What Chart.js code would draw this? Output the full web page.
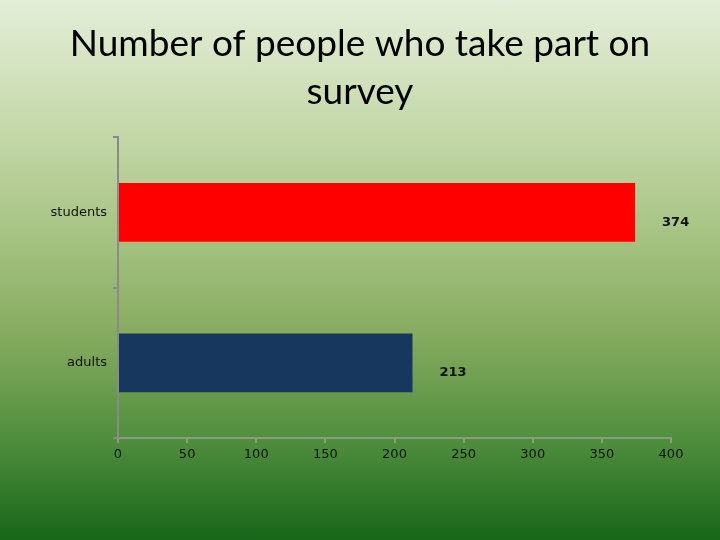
<!DOCTYPE html>
<html>
<head>
<meta charset="utf-8">
<script src="https://cdn.jsdelivr.net/npm/chart.js@4"></script>
<style>
    html, body { margin: 0; padding: 0; }
    body {
        width: 720px; height: 540px; overflow: hidden;
        background: linear-gradient(to bottom, #e4eed8 0%, #c3d7a8 25%, #a4c180 45%, #86ab5f 62%, #4e8d3c 82%, #18661a 100%);
    }
    #wrap { width: 720px; height: 540px; position: relative; }
</style>
</head>
<body>
<div id="wrap"><canvas id="chart"></canvas></div>
<script>
const categories = ["students", "adults"];
const values = [374, 213];
const barColors = ["#ff0000", "#17375e"];
const titleLines = ["Number of people who take part on", "survey"];

// labels de valeurs a droite des barres
const valueLabels = {
    id: "valueLabels",
    afterDatasetsDraw(chart) {
        const ctx = chart.ctx;
        const meta = chart.getDatasetMeta(0);
        ctx.save();
        ctx.font = "bold 13px 'DejaVu Sans'";
        ctx.fillStyle = "#111";
        ctx.textAlign = "left";
        ctx.textBaseline = "middle";
        meta.data.forEach((bar, i) => {
            ctx.fillText(String(values[i]), bar.x + 27, bar.y + 10);
        });
        ctx.restore();
    }
};

new Chart(document.getElementById("chart"), {
    type: "bar",
    data: {
        labels: categories,
        datasets: [{
            data: values,
            backgroundColor: barColors,
            barPercentage: 0.39,
            categoryPercentage: 1
        }]
    },
    options: {
        indexAxis: "y",
        responsive: true,
        maintainAspectRatio: false,
        animation: false,
        layout: { padding: { left: 49, right: 49, top: 0, bottom: 0 } },
        plugins: {
            legend: { display: false },
            tooltip: { enabled: false },
            title: {
                display: true,
                text: titleLines,
                color: "#000",
                font: { family: "Lato", size: 37, weight: "normal", lineHeight: 1.3 },
                padding: { top: 20, bottom: 21 }
            }
        },
        scales: {
            x: {
                min: 0,
                max: 400,
                ticks: {
                    stepSize: 50,
                    color: "#111",
                    font: { family: "DejaVu Sans", size: 13 },
                    padding: 4
                },
                grid: { drawOnChartArea: false, color: "#8c9c84", tickLength: 5, lineWidth: 2 },
                border: { color: "#8c9c84", width: 2 },
                afterFit(scale) { scale.height = 102; }
            },
            y: {
                ticks: {
                    color: "#111",
                    font: { family: "DejaVu Sans", size: 13 },
                    padding: 6
                },
                grid: { drawOnChartArea: false, color: "#8a8a8a", tickLength: 5, lineWidth: 2 },
                border: { color: "#8a8a8a", width: 2 },
                afterFit(scale) { scale.width = 69; }
            }
        }
    },
    plugins: [valueLabels]
});
</script>
</body>
</html>
